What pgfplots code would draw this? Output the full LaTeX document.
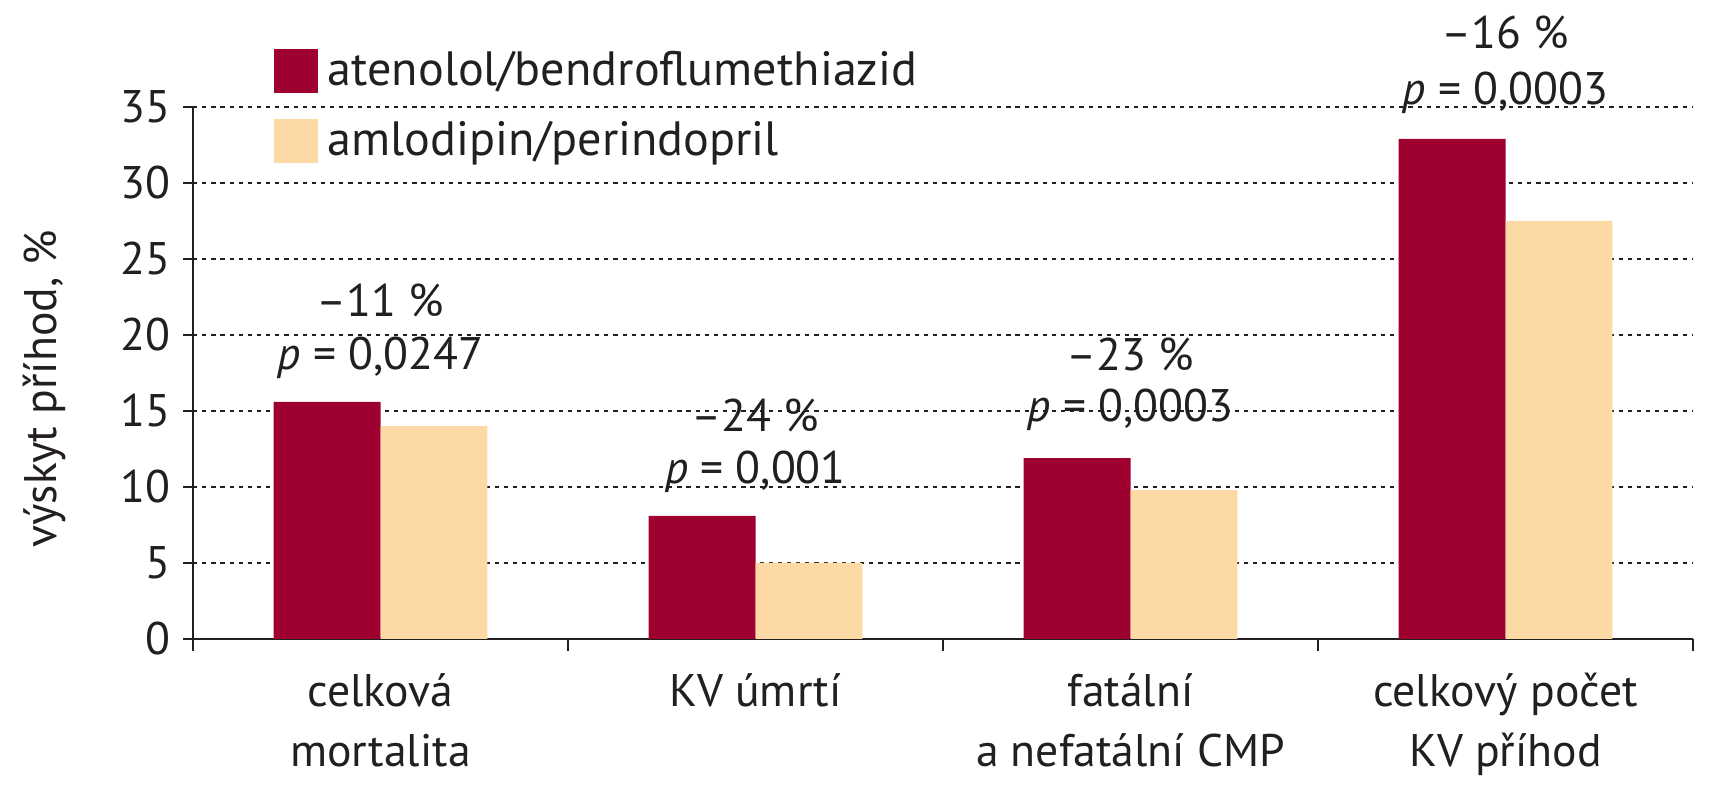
\documentclass[border=0pt]{standalone}
\usepackage{fontspec}
\setmainfont{PT Sans}
\usepackage{pgfplots}
\pgfplotsset{compat=1.18}
\definecolor{darkred}{RGB}{158,0,48}
\definecolor{peach}{RGB}{253,217,165}
\definecolor{txt}{RGB}{35,31,32}
\newcommand{\chartfont}{\fontsize{13}{17}\selectfont}

\begin{document}
\begin{tikzpicture}
\begin{axis}[
  scale only axis,
  width=15cm, height=5.32cm,
  ybar=0pt, bar width=0.285,
  xmin=-0.5, xmax=3.5, ymin=0, ymax=35,
  ytick={0,5,...,35},
  xtick={0,1,2,3},
  xticklabels={celková\\mortalita, KV úmrtí, fatální\\a nefatální CMP, celkový počet\\KV příhod},
  minor xtick={-0.5,0.5,1.5,2.5,3.5},
  axis x line*=bottom, axis y line*=left,
  axis line style={-, line width=0.7pt, txt},
  tick align=outside,
  major tick length=0.1cm,
  minor tick length=0.12cm,
  major x tick style={draw=none},
  every tick/.style={txt, line width=0.7pt},
  ymajorgrids,
  grid style={txt, line width=0.5pt, dash pattern=on 1.2pt off 1.4pt},
  /pgf/number format/assume math mode=true,
  ticklabel style={font=\chartfont, text=txt},
  xticklabel style={align=center, yshift=-0.12cm},
  ylabel={výskyt příhod, \%},
  ylabel style={font=\chartfont, text=txt, at={(axis description cs:-0.0993,0.47)}, anchor=center},
  legend style={at={(rel axis cs:0.0533,1.125)}, anchor=north west, draw=none, fill=none,
    inner sep=0pt, row sep=0.1cm, font=\fontsize{13.7}{17}\selectfont, text=txt,
    nodes={inner sep=0.1cm}},
  legend cell align=left,
  legend image code/.code={\fill (0cm,-0.22cm) rectangle (0.44cm,0.22cm);},
  clip=false,
]
\addplot[fill=darkred, draw=none] coordinates {(0,15.6) (1,8.1) (2,11.9) (3,32.9)};
\addplot[fill=peach, draw=none] coordinates {(0,14.0) (1,5.0) (2,9.8) (3,27.5)};
\legend{atenolol/bendroflumethiazid, amlodipin/perindopril}

\node[font=\chartfont, text=txt] at (axis cs:0,22.3) {–11 \%};
\node[font=\chartfont, text=txt] at (axis cs:0,18.5) {\textit{p} = 0,0247};
\node[font=\chartfont, text=txt] at (axis cs:1,14.7) {–24 \%};
\node[font=\chartfont, text=txt] at (axis cs:1,11.0) {\textit{p} = 0,001};
\node[font=\chartfont, text=txt] at (axis cs:2,18.7) {–23 \%};
\node[font=\chartfont, text=txt] at (axis cs:2,15.1) {\textit{p} = 0,0003};
\node[font=\chartfont, text=txt] at (axis cs:3,39.9) {–16 \%};
\node[font=\chartfont, text=txt] at (axis cs:3,35.9) {\textit{p} = 0,0003};

\coordinate (bl) at (rel axis cs:-0.1287,-0.3026);
\coordinate (tr) at (rel axis cs:1.02,1.2011);
\end{axis}
\pgfresetboundingbox
\path[use as bounding box] (bl) rectangle (tr);
\end{tikzpicture}
\end{document}
